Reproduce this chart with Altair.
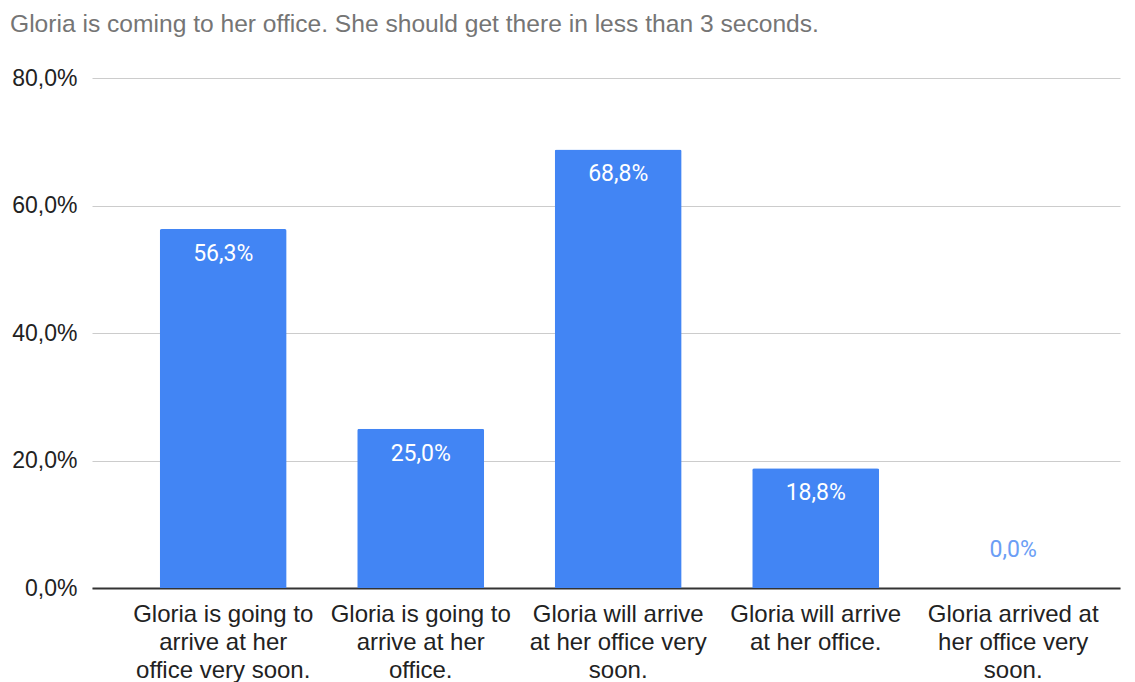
import altair as alt
import pandas as pd

categories = [
    "Gloria is going to\narrive at her\noffice very soon.",
    "Gloria is going to\narrive at her\noffice.",
    "Gloria will arrive\nat her office very\nsoon.",
    "Gloria will arrive\nat her office.",
    "Gloria arrived at\nher office very\nsoon.",
]
values = [0.563, 0.25, 0.688, 0.188, 0.0]
y_ticks = [0.0, 0.2, 0.4, 0.6, 0.8]
title_text = "Gloria is coming to her office. She should get there in less than 3 seconds."

df = pd.DataFrame({"cat": categories, "val": values})

FONT = "Liberation Sans"

x_enc = alt.X(
    "cat:N",
    sort=None,
    title=None,
    scale=alt.Scale(paddingInner=0.357, paddingOuter=0.281, align=0.61),
    axis=alt.Axis(
        labelExpr="split(datum.label, '\\n')",
        labelAngle=0,
        labelFont=FONT,
        labelFontSize=24,
        labelColor="#222222",
        labelLineHeight=28,
        labelPadding=14,
        labelLimit=300,
        ticks=False,
        domain=True,
        domainColor="#333333",
        domainWidth=2,
        grid=False,
    ),
)
y_enc = alt.Y(
    "val:Q",
    title=None,
    scale=alt.Scale(domain=[0, 0.8], nice=False),
    axis=alt.Axis(
        values=y_ticks,
        labelExpr="replace(format(datum.value, '.1%'), '.', ',')",
        labelFont=FONT,
        labelFontSize=23,
        labelColor="#222222",
        labelPadding=15,
        ticks=False,
        domain=False,
        grid=True,
        gridColor="#cccccc",
        gridWidth=1,
    ),
)

base = alt.Chart(df).encode(x=x_enc, y=y_enc).transform_calculate(
    lbl="replace(format(datum.val, '.1%'), '.', ',')"
)

bars = base.mark_bar(color="#4285F4", cornerRadiusTopLeft=2, cornerRadiusTopRight=2)

labels_in = base.transform_filter("datum.val > 0").mark_text(
    color="white", font="Roboto", fontSize=23, baseline="middle", dy=25
).encode(text="lbl:N")

labels_zero = base.transform_filter("datum.val == 0").mark_text(
    color="#6b9ef5", font="Roboto", fontSize=23, baseline="middle", dy=-38
).encode(text="lbl:N")

chart = (
    alt.layer(bars, labels_in, labels_zero)
    .properties(
        width=1028,
        height=510,
        autosize=alt.AutoSizeParams(type="none"),
        padding={"left": 92, "top": 78, "right": 15, "bottom": 94},
        title=alt.TitleParams(
            text=title_text,
            anchor="start",
            frame="group",
            font=FONT,
            fontSize=24.6,
            fontWeight="normal",
            color="#757575",
            baseline="alphabetic",
            offset=10,
            dx=-82,
        ),
    )
    .configure_view(stroke=None)
)

chart.save("out.html", embed_options={"renderer": "svg", "actions": False})
